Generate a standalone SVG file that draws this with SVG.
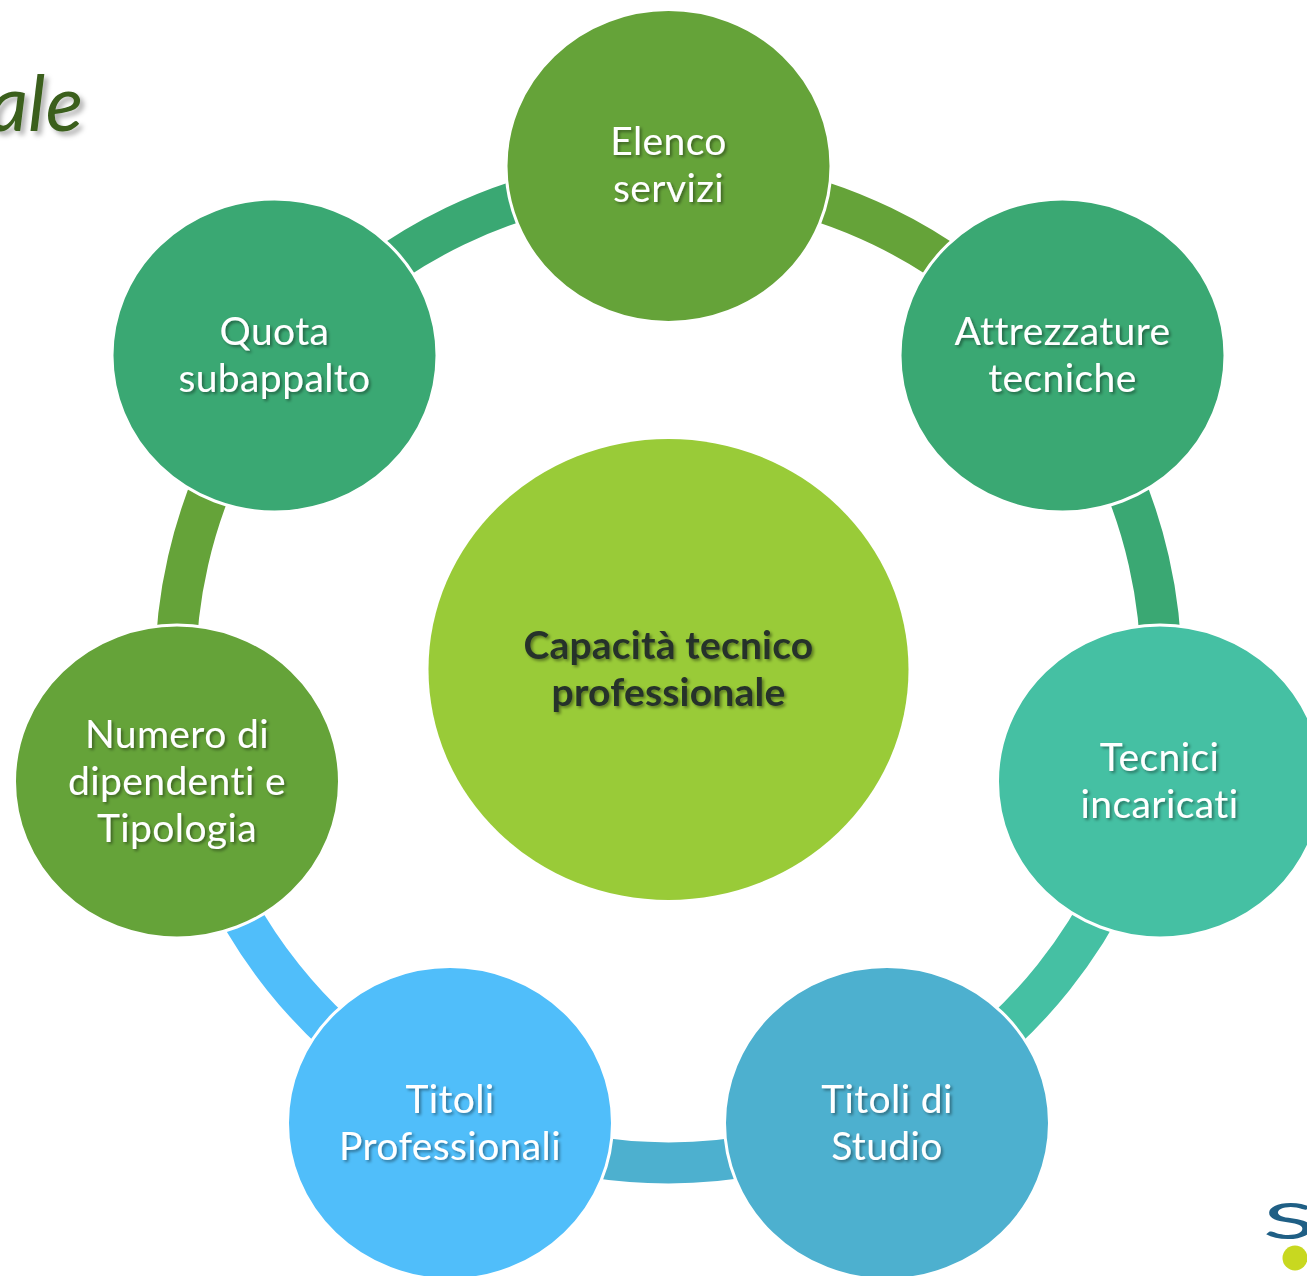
<svg xmlns="http://www.w3.org/2000/svg" width="1307" height="1276" viewBox="0 0 1307 1276">
<style>
.seg{fill:none;stroke-width:41}
.node{stroke:#fff;stroke-width:3}
.lab{font-family:"Lato","Open Sans",sans-serif;font-size:39px;letter-spacing:.4px;font-variant-ligatures:none;fill:#fff;text-anchor:middle;filter:url(#sh)}
.ctr{font-family:"Lato","Open Sans",sans-serif;font-size:39px;letter-spacing:.2px;font-variant-ligatures:none;font-weight:700;fill:#25332a;text-anchor:middle;filter:url(#sh)}
</style>
<defs>
<filter id="sh" x="-10%" y="-20%" width="120%" height="140%"><feDropShadow dx="2" dy="2" stdDeviation="1.5" flood-color="#000" flood-opacity=".4"/></filter>
<filter id="sh2" x="-20%" y="-20%" width="140%" height="140%"><feDropShadow dx="4" dy="4" stdDeviation="2.5" flood-color="#000" flood-opacity=".3"/></filter>
</defs>
<rect width="1307" height="1276" fill="#fff"/>
<text x="83" y="131" font-family="Lato,'Open Sans',sans-serif" font-size="78" font-style="italic" fill="#3a5f1e" text-anchor="end" filter="url(#sh2)">ale</text>
<g id="logo">
<text x="0" y="0" transform="translate(1263 1239) scale(1.9 1)" font-family="Lato,'Open Sans',sans-serif" font-size="51" fill="#1f5f85">S</text>
<circle cx="1295" cy="1258" r="12.500" fill="#c8d820"/>
</g>
<g id="connectors">
<path class="seg" stroke="#65a339" d="M668.500 177.500A492.500 492.500 0 0 1 1053.500 363"/>
<path class="seg" stroke="#3aa873" d="M1053.500 363A492.500 492.500 0 0 1 1148.700 780"/>
<path class="seg" stroke="#45c0a3" d="M1148.700 780A492.500 492.500 0 0 1 882 1114"/>
<path class="seg" stroke="#4db0cf" d="M882 1114.200A492.500 492.500 0 0 1 455 1114.200"/>
<path class="seg" stroke="#50befa" d="M455 1114.200A492.500 492.500 0 0 1 188 780"/>
<path class="seg" stroke="#65a339" d="M188 780A492.500 492.500 0 0 1 283.500 363"/>
<path class="seg" stroke="#3aa873" d="M283.500 363A492.500 492.500 0 0 1 668.500 177.500"/>
</g>
<g id="n-centro"><ellipse cx="668.500" cy="669.500" rx="240" ry="230.500" fill="#99cb38"/>
<text class="ctr" x="668.500" y="658.500">Capacità tecnico</text><text class="ctr" x="668.500" y="705.500">professionale</text></g>
<g id="n-elenco"><ellipse class="node" cx="668.500" cy="166" rx="162.500" ry="156.500" fill="#65a339"/>
<text class="lab" x="668.500" y="155">Elenco</text><text class="lab" x="668.500" y="202">servizi</text></g>
<g id="n-attrezzature"><ellipse class="node" cx="1062.500" cy="355.500" rx="162.500" ry="156.500" fill="#3aa873"/>
<text class="lab" x="1062.500" y="345">Attrezzature</text><text class="lab" x="1062.500" y="392">tecniche</text></g>
<g id="n-tecnici"><ellipse class="node" cx="1160" cy="781.500" rx="162.500" ry="156.500" fill="#45c0a3"/>
<text class="lab" x="1159.500" y="771">Tecnici</text><text class="lab" x="1159.500" y="818">incaricati</text></g>
<g id="n-studio"><ellipse class="node" cx="887" cy="1123" rx="162.500" ry="156.500" fill="#4db0cf"/>
<text class="lab" x="887" y="1113">Titoli di</text><text class="lab" x="887" y="1160">Studio</text></g>
<g id="n-professionali"><ellipse class="node" cx="450" cy="1123" rx="162.500" ry="156.500" fill="#50befa"/>
<text class="lab" x="450" y="1113">Titoli</text><text class="lab" x="450" y="1160">Professionali</text></g>
<g id="n-dipendenti"><ellipse class="node" cx="177" cy="781.500" rx="162.500" ry="156.500" fill="#65a339"/>
<text class="lab" x="177" y="748">Numero di</text><text class="lab" x="177" y="795">dipendenti e</text><text class="lab" x="177" y="842">Tipologia</text></g>
<g id="n-quota"><ellipse class="node" cx="274.500" cy="355.500" rx="162.500" ry="156.500" fill="#3aa873"/>
<text class="lab" x="274.500" y="345">Quota</text><text class="lab" x="274.500" y="392">subappalto</text></g>
</svg>
